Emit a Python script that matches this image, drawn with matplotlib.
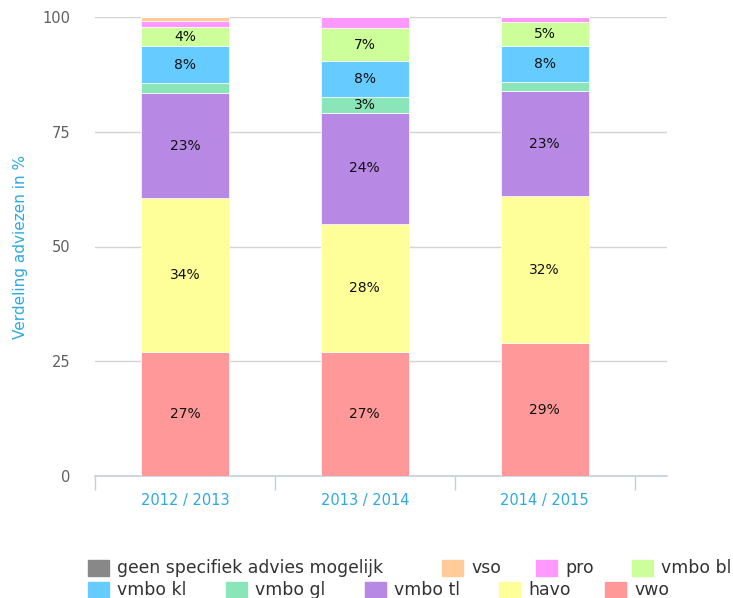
import numpy as np
import matplotlib
matplotlib.use("Agg")
from matplotlib import pyplot as plt
from matplotlib.patches import Rectangle

years = ['2012 / 2013', '2013 / 2014', '2014 / 2015']

# stacked from bottom to top
vwo = [27.0, 27.0, 28.9]
havo = [33.6, 28.0, 32.0]
vmbo_tl = [22.8, 24.1, 22.9]
vmbo_gl = [2.2, 3.4, 2.1]
vmbo_kl = [8.0, 7.9, 7.7]
vmbo_bl = [4.3, 7.1, 5.3]
pro = [1.3, 2.4, 1.0]
vso = [0.7, 0.0, 0.0]
geen = [0.1, 0.1, 0.1]

series = [
    ('vwo', vwo, '#ff9999'),
    ('havo', havo, '#ffff99'),
    ('vmbo tl', vmbo_tl, '#b788e4'),
    ('vmbo gl', vmbo_gl, '#8ae6b9'),
    ('vmbo kl', vmbo_kl, '#66ccff'),
    ('vmbo bl', vmbo_bl, '#ccff99'),
    ('pro', pro, '#ff99ff'),
    ('vso', vso, '#ffcc99'),
    ('geen specifiek advies mogelijk', geen, '#888888'),
]

blue = '#2ea9df'

fig = plt.figure(figsize=(7.33, 5.98), dpi=100)
W, H = 733, 598
ax = fig.add_axes([95 / W, 1 - 476 / H, (667 - 95) / W, (476 - 17) / H])

x = np.arange(len(years))
bottom = np.zeros(len(years))
for name, vals, col in series:
    vals = np.array(vals)
    ax.bar(x, vals, width=0.49, bottom=bottom, color=col,
           edgecolor='white', linewidth=0.5, zorder=3)
    for i, v in enumerate(vals):
        if round(v) >= 3:
            ax.text(x[i], bottom[i] + v / 2, '%d%%' % round(v),
                    ha='center', va='center', fontsize=10, color='#111111', zorder=4)
    bottom += vals

ax.set_xlim(-0.5, 2.68)
ax.set_ylim(0, 100)
ax.set_yticks([0, 25, 50, 75, 100])
ax.tick_params(axis='y', length=0, pad=18, labelsize=10.5, labelcolor='#606060')
ax.set_xticks(x)
ax.set_xticklabels(years, color=blue, fontsize=10.5)
ax.tick_params(axis='x', length=0, pad=12)
ax.set_xticks([-0.5, 0.5, 1.5, 2.5], minor=True)
ax.tick_params(axis='x', which='minor', length=10, color='#c0d0e0', width=1)

ax.grid(axis='y', color='#d4d4d4', linewidth=1, zorder=0)
for s in ['top', 'right', 'left']:
    ax.spines[s].set_visible(False)
ax.spines['bottom'].set_color('#c0d0e0')
ax.spines['bottom'].set_linewidth(1.2)
ax.set_ylabel('Verdeling adviezen in %', color=blue, fontsize=11, labelpad=10)

# legend laid out like the original, two rows
legend_order = ['geen specifiek advies mogelijk', 'vso', 'pro', 'vmbo bl',
                'vmbo kl', 'vmbo gl', 'vmbo tl', 'havo', 'vwo']
legend_x = [88, 442, 536, 632, 88, 226, 365, 499, 605]
legend_y = [568, 568, 568, 568, 590, 590, 590, 590, 590]
colors = {name: col for name, vals, col in series}
for name, lx, ly in zip(legend_order, legend_x, legend_y):
    fig.patches.append(Rectangle((lx / W, 1 - (ly + 8) / H), 21 / W, 16 / H,
                                 transform=fig.transFigure, color=colors[name]))
    fig.text((lx + 29) / W, 1 - ly / H, name, fontsize=12.4, color='#333333',
             ha='left', va='center')

fig.savefig('out.png', dpi=100)
